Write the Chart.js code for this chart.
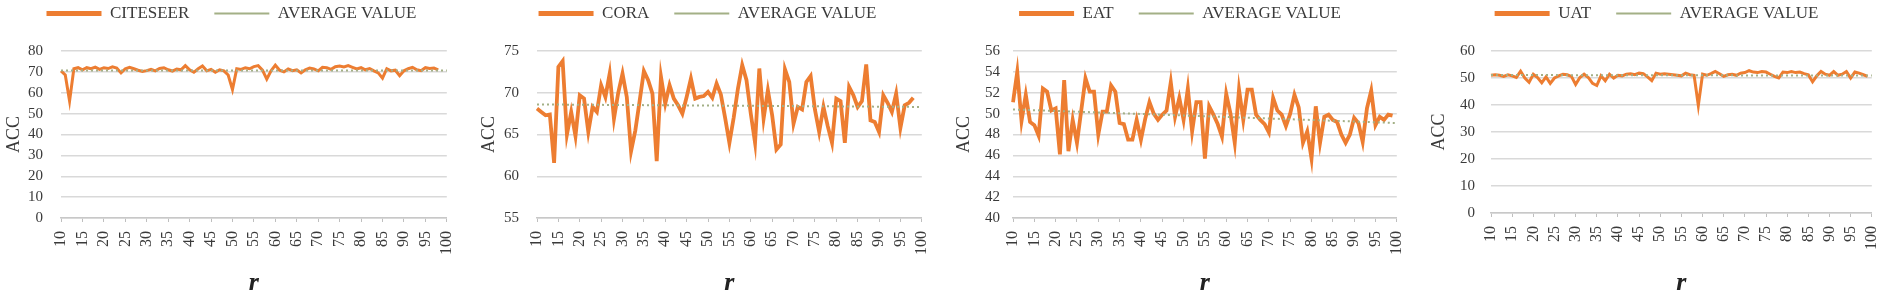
<!DOCTYPE html>
<html><head><meta charset="utf-8">
<script src="https://cdn.jsdelivr.net/npm/chart.js@4.4.1/dist/chart.umd.min.js"></script>
<style>
html,body{margin:0;padding:0;background:#fff;}
#wrap{position:relative;width:1900px;height:299px;overflow:hidden;}
.p{position:absolute;top:0;width:475px;height:299px;}
</style></head><body>
<div id="wrap">
<div class="p" style="left:0px"><canvas id="c0" width="475" height="299"></canvas></div>
<div class="p" style="left:475px"><canvas id="c1" width="475" height="299"></canvas></div>
<div class="p" style="left:950px"><canvas id="c2" width="475" height="299"></canvas></div>
<div class="p" style="left:1425px"><canvas id="c3" width="475" height="299"></canvas></div>
</div>
<script>
// r categories (x axis)
const rCategories = [10,11,12,13,14,15,16,17,18,19,20,21,22,23,24,25,26,27,28,29,30,31,32,33,34,35,36,37,38,39,40,41,42,43,44,45,46,47,48,49,50,51,52,53,54,55,56,57,58,59,60,61,62,63,64,65,66,67,68,69,70,71,72,73,74,75,76,77,78,79,80,81,82,83,84,85,86,87,88,89,90,91,92,93,94,95,96,97,98,99,100];

// ACC series (starting at r = 10)
const citeseerAcc = [70.5,68.5,56.0,71.5,72.0,71.0,72.0,71.5,72.3,71.2,
72.0,71.6,72.4,71.8,69.5,71.5,72.2,71.5,70.8,70.2,
70.6,71.2,70.5,71.6,72.0,71.0,70.4,71.4,71.0,73.0,
71.0,69.8,71.5,72.8,70.5,71.2,69.8,71.0,70.5,68.5,
61.5,71.5,71.2,72.0,71.5,72.5,73.0,70.8,66.5,70.5,
73.2,70.8,70.0,71.4,70.6,71.0,69.5,71.0,71.8,71.4,
70.5,72.2,72.0,71.2,72.5,72.8,72.4,73.0,72.2,71.4,
72.0,71.0,71.6,70.5,69.5,67.0,71.5,70.5,70.8,68.2,
70.5,71.5,72.2,71.0,70.6,72.0,71.6,71.8,71.0];

const coraAcc = [68.1,67.7,67.3,67.4,61.6,73.1,73.8,65.0,67.7,64.8,
69.7,69.3,65.3,68.3,67.7,70.9,69.5,72.3,66.9,70.0,
72.3,69.5,63.0,65.5,69.0,72.6,71.5,69.9,61.8,71.9,
68.7,70.9,69.3,68.5,67.5,69.5,71.7,69.3,69.5,69.6,
70.1,69.4,71.1,69.8,67.0,64.0,67.0,70.5,73.3,71.5,
67.5,64.0,72.9,66.9,70.3,67.3,63.2,63.8,72.8,71.3,
66.3,68.3,68.0,71.3,72.0,68.0,65.3,68.3,66.0,64.0,
69.3,69.0,64.0,70.7,69.7,68.3,69.0,73.4,66.7,66.5,
65.3,69.7,68.8,67.7,69.9,65.8,68.5,68.8,69.4];

const eatAcc = [51.1,54.0,49.3,51.8,49.2,48.9,47.9,52.4,52.1,50.3,
50.5,46.1,53.2,46.4,49.4,47.2,50.3,53.4,52.1,52.1,
48.0,50.2,50.2,52.7,52.1,49.1,49.0,47.5,47.5,49.4,
47.5,49.5,51.1,50.0,49.4,49.9,50.3,53.0,49.7,51.5,
49.4,52.4,48.3,51.1,51.1,45.7,50.7,49.9,49.0,47.8,
51.9,50.0,47.2,52.3,49.4,52.3,52.3,49.9,49.4,49.0,
48.2,51.5,50.3,49.9,48.8,50.0,51.8,50.6,47.2,48.3,
45.7,50.7,47.2,49.7,49.9,49.4,49.2,48.0,47.2,48.0,
49.6,49.1,47.3,50.5,52.2,48.9,49.7,49.4,49.9,49.8];

const uatAcc = [51.0,51.2,51.0,50.6,51.2,50.8,50.2,52.5,50.0,48.4,
51.4,50.2,48.2,50.4,48.0,50.0,50.8,51.4,51.2,50.6,
47.6,50.2,51.4,50.2,48.0,47.2,50.8,49.0,51.4,50.0,
51.0,50.8,51.4,51.6,51.2,51.8,51.6,50.4,49.0,51.8,
51.4,51.6,51.4,51.2,51.0,50.8,51.8,51.2,51.0,39.8,
51.4,51.0,51.6,52.4,51.6,50.6,51.2,51.4,51.0,51.8,
52.0,52.7,52.2,52.0,52.4,52.2,51.4,50.6,50.0,52.2,
52.0,52.4,52.0,52.2,51.6,51.2,48.6,50.8,52.4,51.4,
51.0,52.4,51.0,51.4,52.4,50.0,52.2,51.8,51.2,50.6];

// AVERAGE VALUE line: value at r = 10 and at r = 100
const citeseerAverage = [70.6, 70.6];
const coraAverage = [68.6, 68.3];
const eatAverage = [50.4, 49.1];
const uatAverage = [51.1, 50.9];

// y-axis ticks: min, max, step
const citeseerTicks = [0, 80, 10];
const coraTicks = [55, 75, 5];
const eatTicks = [40, 56, 2];
const uatTicks = [0, 60, 10];

const seriesNames = ['CITESEER', 'CORA', 'EAT', 'UAT'];
const avgName = 'AVERAGE VALUE';

const ORANGE = '#ED7D31';
const AVG = '#a3b086';
const TEXT = '#3a3a3a';
const FONT = "'Liberation Serif', 'Times New Roman', serif";
const LEGEND_H = 71;

const panels = [
  {id:'c0', name:seriesNames[0], data:citeseerAcc, avg:citeseerAverage, ticks:citeseerTicks, left:61, right:463, bottom:218, tickPad:18, lw:3},
  {id:'c1', name:seriesNames[1], data:coraAcc, avg:coraAverage, ticks:coraTicks, left:62, right:465, bottom:218, tickPad:18, lw:3.8},
  {id:'c2', name:seriesNames[2], data:eatAcc, avg:eatAverage, ticks:eatTicks, left:63, right:460, bottom:218, tickPad:13, lw:3.8},
  {id:'c3', name:seriesNames[3], data:uatAcc, avg:uatAverage, ticks:uatTicks, left:66, right:463, bottom:213, tickPad:16, lw:3}
];

const legendHeight = {
  id: 'legendHeight',
  beforeInit(chart) {
    const lg = chart.legend;
    if (!lg) return;
    const orig = lg.fit;
    lg.fit = function() { orig.call(this); this.height = LEGEND_H; };
  }
};

panels.forEach(p => {
  const avgData = [
    {x: String(rCategories[0]), y: p.avg[0]},
    {x: String(rCategories[rCategories.length - 1]), y: p.avg[1]}
  ];
  new Chart(document.getElementById(p.id), {
    type: 'line',
    data: {
      labels: rCategories.map(String),
      datasets: [
        {label: p.name, data: p.data, borderColor: ORANGE, backgroundColor: ORANGE, borderWidth: p.lw, pointRadius: 0, pointStyle: 'line', tension: 0, order: 2},
        {label: avgName, data: avgData, borderColor: AVG, backgroundColor: AVG, borderWidth: 2, borderDash: [2, 3], pointRadius: 0, pointStyle: 'line', tension: 0, order: 1}
      ]
    },
    options: {
      responsive: false,
      animation: false,
      devicePixelRatio: 1,
      layout: {padding: {left: 0, right: 475 - p.right, top: -20, bottom: 0}},
      plugins: {
        tooltip: {enabled: false},
        legend: {
          display: true,
          position: 'top',
          labels: {
            usePointStyle: true,
            pointStyleWidth: 55,
            padding: 25,
            color: TEXT,
            font: {family: FONT, size: 17},
            sort: (a, b) => a.datasetIndex - b.datasetIndex,
            generateLabels: (chart) => {
              const items = Chart.defaults.plugins.legend.labels.generateLabels(chart);
              items.forEach((it) => { it.pointStyle = 'line'; it.lineWidth = it.datasetIndex === 0 ? 5 : 2; });
              return items;
            }
          }
        }
      },
      scales: {
        x: {
          type: 'category',
          grid: {
            display: true, drawOnChartArea: false, drawTicks: true, tickLength: 4, lineWidth: 1,
            color: (c) => (c.index !== undefined && rCategories[c.index] % 5 === 0) ? '#bfbfbf' : 'rgba(0,0,0,0)'
          },
          border: {display: true, color: '#c8c8c8', width: 1.5},
          ticks: {
            autoSkip: false, maxRotation: 90, minRotation: 90, padding: 9, color: TEXT,
            font: {family: FONT, size: 16},
            callback: function(v, i) { const l = rCategories[i]; return l % 5 === 0 ? String(l) : ''; }
          },
          title: {display: true, text: 'r', color: '#222', font: {family: FONT, size: 26, weight: 'bold', style: 'italic'}, padding: {top: 0, bottom: 0}},
          afterFit: (s) => { s.height = 299 - p.bottom; }
        },
        y: {
          min: p.ticks[0], max: p.ticks[1],
          ticks: {stepSize: p.ticks[2], autoSkip: false, padding: p.tickPad, color: TEXT, font: {family: FONT, size: 15}},
          grid: {color: '#d9d9d9', lineWidth: 1.5, drawTicks: false},
          border: {display: false},
          title: {display: true, text: 'ACC', color: TEXT, font: {family: FONT, size: 18}, padding: {top: 3, bottom: 0}},
          afterFit: (s) => { s.width = p.left; }
        }
      }
    },
    plugins: [legendHeight]
  });
});
</script>
</body></html>
